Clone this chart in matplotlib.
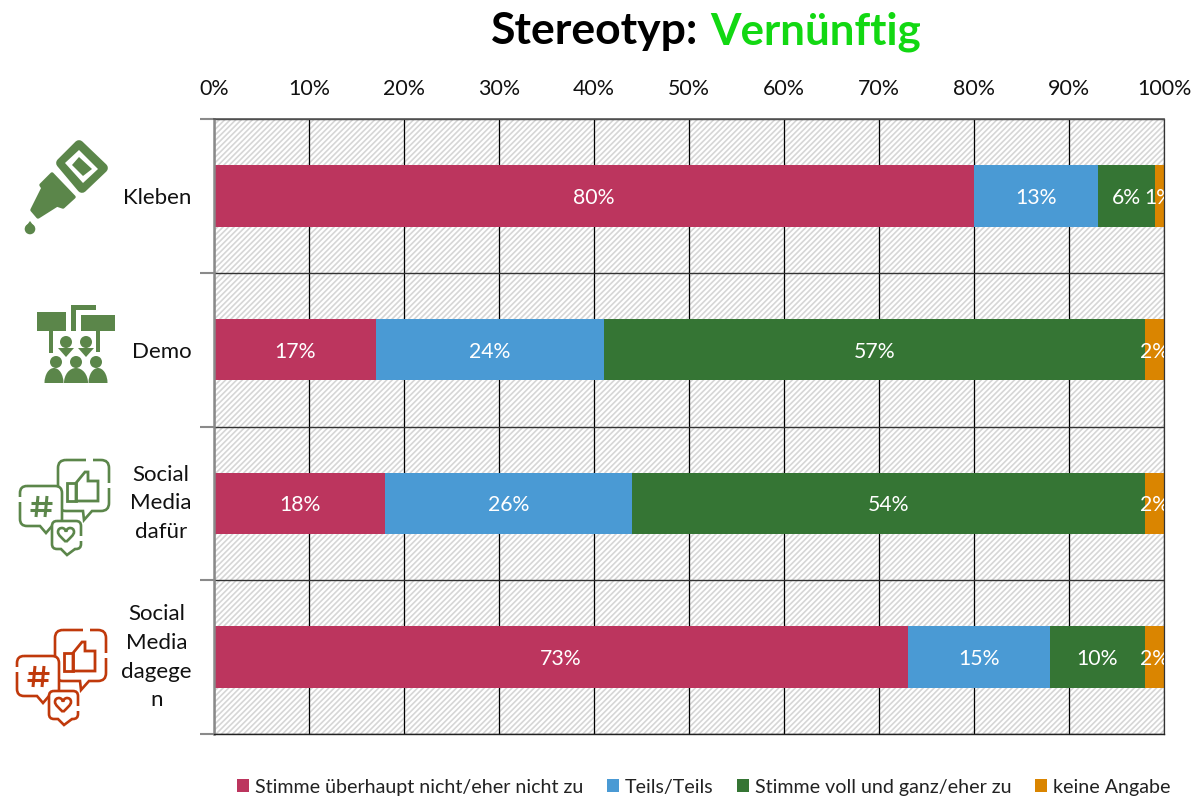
import numpy as np
import matplotlib
matplotlib.use('Agg')
import matplotlib.pyplot as plt
from matplotlib.patches import Circle, Ellipse, PathPatch, Polygon, Rectangle
from matplotlib.path import Path

plt.rcParams['font.family'] = ['Lato', 'DejaVu Sans']
plt.rcParams['hatch.linewidth'] = 1.2

# Data
categories = ['Kleben', 'Demo', 'Social\nMedia\ndafür', 'Social\nMedia\ndagege\nn']
series_names = ['Stimme überhaupt nicht/eher nicht zu', 'Teils/Teils',
                'Stimme voll und ganz/eher zu', 'keine Angabe']
disagree = [80, 17, 18, 73]
neutral = [13, 24, 26, 15]
agree = [6, 57, 54, 10]
no_answer = [1, 2, 2, 2]
colors = ['#BC355E', '#4A9AD4', '#357534', '#DA8500']
x_ticks = list(range(0, 101, 10))

W, H = 1196, 798
fig = plt.figure(figsize=(W / 100, H / 100), dpi=100)
ax = fig.add_axes([214 / W, 1 - 734 / H, 950 / W, 615 / H])

# Hatched background
ax.add_patch(Rectangle((0, 0), 1, 1, transform=ax.transAxes, facecolor='white',
                       edgecolor='#d6d6d6', hatch='/' * 6, linewidth=0, zorder=0))

# Stacked bars
y = np.arange(len(categories))
left = np.zeros(len(categories))
bars = []
for name, vals, col in zip(series_names, [disagree, neutral, agree, no_answer], colors):
    b = ax.barh(y, vals, left=left, height=0.4, color=col, label=name, zorder=2)
    labels = ax.bar_label(b, fmt='%d%%', label_type='center', color='white', fontsize=15.3,
                          clip_on=True, zorder=3)
    for t in labels:
        t.set_verticalalignment('center_baseline')
    left += np.array(vals)
    bars.append(b)

ax.set_xlim(0, 100)
ax.set_ylim(len(categories) - 0.5, -0.5)

# X axis on top
ax.xaxis.tick_top()
ax.set_xticks(x_ticks)
ax.set_xticklabels([f'{t}%' for t in x_ticks], fontsize=15.4, color='#111111')
ax.tick_params(axis='x', length=0, pad=14.5)
ax.grid(axis='x', color='black', linewidth=0.9, zorder=1)
ax.set_axisbelow(True)

# Y axis: ticks between the categories, labels at the centres
ax.set_yticks(np.arange(len(categories) + 1) - 0.5)
ax.set_yticklabels([])
ax.set_yticks(y, labels=categories, minor=True)
ax.tick_params(axis='y', which='major', length=10, width=1.5, color='#8a8a8a')
ax.tick_params(axis='y', which='minor', length=0, pad=16, labelsize=16)
for lab in ax.get_yticklabels(minor=True):
    lab.set_multialignment('center')
    lab.set_linespacing(1.55)
    lab.set_color('#111111')
    if '\n' in lab.get_text():
        lab.set_verticalalignment('center')
ax.grid(axis='y', which='major', color='#333333', linewidth=1.0, zorder=1)

ax.spines['left'].set_color('#8a8a8a')
ax.spines['left'].set_linewidth(1.8)
ax.spines['top'].set_color('#555555')
ax.spines['top'].set_linewidth(1.2)
ax.spines['right'].set_color('#333333')
ax.spines['right'].set_linewidth(0.9)
ax.spines['bottom'].set_color('#222222')
ax.spines['bottom'].set_linewidth(1.0)

# Title in two colours
fig.text(491 / W, 1 - 44 / H, 'Stereotyp:', fontsize=32, fontweight='bold', color='black')
fig.text(710 / W, 1 - 44 / H, 'Vernünftig', fontsize=31.6, fontweight='bold', color='#12D812')

# Legend
fig.legend(handles=[b[0] for b in bars], labels=series_names, loc='center',
           bbox_to_anchor=(704 / W, 1 - 787 / H), ncols=4, frameon=False, fontsize=14.1,
           handlelength=0.62, handleheight=0.62, handletextpad=0.3, columnspacing=1.2,
           borderpad=0, labelcolor='#222222')

# Icons, drawn in pixel coordinates
ic = fig.add_axes([0, 0, 1, 1], zorder=5)
ic.set_xlim(0, W)
ic.set_ylim(H, 0)
ic.axis('off')

ICON_GREEN = '#5B864A'
ICON_RED = '#C0390B'


def poly(pts, color, **kw):
    ic.add_patch(Polygon(pts, closed=True, facecolor=color, edgecolor=color,
                         joinstyle='round', **kw))


# Glue bottle
poly([(79, 145), (103, 168), (82, 188), (61, 163)], ICON_GREEN, linewidth=7)
poly([(79, 150), (98, 169), (83, 183), (65, 163)], 'white', linewidth=0)
poly([(79, 157), (92, 169), (83, 176), (72, 165)], ICON_GREEN, linewidth=0)
poly([(52, 174), (74, 197), (63, 207), (57, 205), (38, 217), (32, 210), (43, 188), (41, 185)],
     ICON_GREEN, linewidth=2.5)
ic.add_patch(Circle((30, 229), 5.3, color=ICON_GREEN, linewidth=0))
poly([(30, 221), (25.5, 227), (34.5, 227)], ICON_GREEN, linewidth=0)

# Demo crowd
ic.add_patch(Rectangle((37, 312), 29, 19, color=ICON_GREEN, linewidth=0))
ic.add_patch(Rectangle((49, 331), 4, 22, color=ICON_GREEN, linewidth=0))
ic.add_patch(Rectangle((81, 315), 34, 16, color=ICON_GREEN, linewidth=0))
ic.add_patch(Rectangle((96, 331), 4, 21, color=ICON_GREEN, linewidth=0))
ic.add_patch(Rectangle((71, 305), 25, 5, color=ICON_GREEN, linewidth=0))
ic.add_patch(Rectangle((71, 305), 5, 26, color=ICON_GREEN, linewidth=0))
for cx in (66, 86):
    ic.add_patch(Circle((cx, 342), 6, color=ICON_GREEN, linewidth=0))
    poly([(cx - 8, 348), (cx + 8, 348), (cx, 357)], ICON_GREEN, linewidth=0)
for cx, hx, hw in ((54, 56, 9.5), (76, 76, 12), (98, 96, 9.5)):
    ic.add_patch(Circle((hx, 362), 6, color=ICON_GREEN, linewidth=0))
    ic.add_patch(Ellipse((cx, 383), hw * 2, 30, color=ICON_GREEN, linewidth=0))
ic.add_patch(Rectangle((40, 383), 72, 22, color='white', linewidth=0, zorder=3))


def bubble(x0, y0, x1, y1, tail, color, r=7, lw=1.9):
    # rounded box with a small tail on the lower edge: tail = (start, tip_x, tip_y, end)
    t0, tx, ty, t1 = tail
    v = [(x0 + r, y0), (x1 - r, y0), (x1, y0), (x1, y0 + r), (x1, y1 - r), (x1, y1),
         (x1 - r, y1), (t1, y1), (tx, ty), (t0, y1), (x0 + r, y1), (x0, y1), (x0, y1 - r),
         (x0, y0 + r), (x0, y0), (x0 + r, y0)]
    c = [Path.MOVETO, Path.LINETO, Path.CURVE3, Path.CURVE3, Path.LINETO, Path.CURVE3, Path.CURVE3,
         Path.LINETO, Path.LINETO, Path.LINETO, Path.LINETO, Path.CURVE3, Path.CURVE3, Path.LINETO,
         Path.CURVE3, Path.CURVE3]
    ic.add_patch(PathPatch(Path(v, c), facecolor='white', edgecolor=color, linewidth=lw, zorder=2))


def social_icon(dx, dy, color):
    def line(xs, ys, col=color, lw=1.9):
        ic.plot([p + dx for p in xs], [p + dy for p in ys], color=col, linewidth=lw,
                solid_capstyle='butt', zorder=4)

    bubble(58 + dx, 460 + dy, 109 + dx, 511 + dy, (83 + dx, 84 + dx, 520 + dy, 92 + dx), color, r=8)
    line([86, 93], [460, 460], 'white', 3)
    line([109, 109], [483, 488], 'white', 3)
    # thumb
    ic.add_patch(Polygon([(76 + dx, 483 + dy), (85 + dx, 472 + dy), (88 + dx, 472 + dy),
                          (88 + dx, 481 + dy), (98 + dx, 481 + dy), (98 + dx, 501 + dy),
                          (76 + dx, 501 + dy)], closed=True, fill=False, edgecolor=color,
                         linewidth=2, zorder=2))
    ic.add_patch(Rectangle((67 + dx, 483 + dy), 9, 18, fill=False, edgecolor=color, linewidth=2, zorder=2))
    bubble(20 + dx, 486 + dy, 62 + dx, 526 + dy, (40 + dx, 46 + dx, 533 + dy, 52 + dx), color)
    line([20, 20], [497, 502], 'white', 3)
    # hash sign
    line([38, 36], [496, 517], lw=2.2)
    line([47, 45], [496, 517], lw=2.2)
    line([31, 52], [503, 503], lw=2.2)
    line([30, 51], [510, 510], lw=2.2)
    bubble(52 + dx, 521 + dy, 81 + dx, 549 + dy, (61 + dx, 67 + dx, 555 + dy, 75 + dx), color, r=5)
    line([81, 81], [536, 541], 'white', 3)
    # heart outline
    hv = [(66, 542), (62, 538), (58, 535), (58, 532), (58, 529), (60, 528), (62, 528), (64, 528),
          (66, 530), (66, 532), (66, 530), (68, 528), (70, 528), (72, 528), (74, 529), (74, 532),
          (74, 535), (70, 538), (66, 542)]
    hc = [Path.MOVETO] + [Path.CURVE4] * 18
    ic.add_patch(PathPatch(Path([(px + dx, py + dy) for px, py in hv], hc), fill=False,
                           edgecolor=color, linewidth=1.9, zorder=4))


social_icon(0, 0, ICON_GREEN)
social_icon(-3, 170, ICON_RED)

fig.savefig('out.png', dpi=100)
